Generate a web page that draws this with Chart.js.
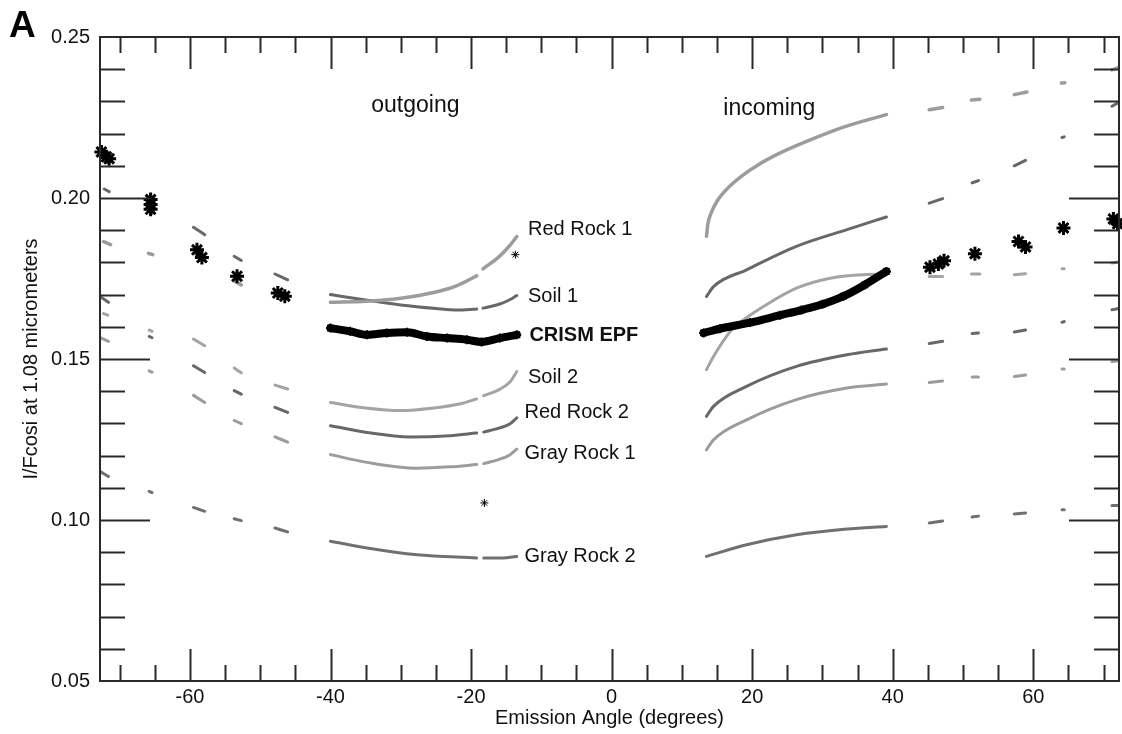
<!DOCTYPE html>
<html>
<head>
<meta charset="utf-8">
<title>EPF</title>
<script src="https://cdn.jsdelivr.net/npm/chart.js@4/dist/chart.umd.min.js"></script>
<style>
html, body { margin: 0; padding: 0; background: #fff; overflow: hidden; }
#myChart { display: block; }
</style>
</head>
<body>
<canvas id="myChart" width="1122" height="734"></canvas>
<script>
// axis ticks
const xTickLabels = [-60, -40, -20, 0, 20, 40, 60];
const xMinorTicks = [-70, -65, -60, -55, -50, -45, -40, -35, -30, -25, -20, -15, -10, -5, 0, 5, 10, 15, 20, 25, 30, 35, 40, 45, 50, 55, 60, 65, 70];
const yTickLabels = [0.05, 0.10, 0.15, 0.20, 0.25];
const yMinorTicks = [0.06, 0.07, 0.08, 0.09, 0.10, 0.11, 0.12, 0.13, 0.14, 0.15, 0.16, 0.17, 0.18, 0.19, 0.20, 0.21, 0.22, 0.23, 0.24];
const xMin = -72.8, xMax = 72.2;

// model curves, null = break between the separate emission-angle sweeps
const redRock1Angle = [-72.3, -71.3, null, -65.9, -65.3, null, -59.3, -57.9, null, -53.7, -52.7, null, -47.9, -46.1, null,
  -40, -35, -30, -25, -22, -19.2, null, -18.3, -16, -14.5, -13.5, null,
  13.5, 13.7, 14.2, 15.0, 16.5, 18.5, 21.0, 24.0, 28.0, 33.0, 39.1, null,
  45.2, 47.1, null, 51.2, 52.4, null, 57.3, 59.1, null, 64.0, 64.5, null, 71.2, 72.4];
const redRock1Value = [0.1865, 0.1855, null, 0.1828, 0.1824, null, 0.1830, 0.1808, null, 0.1742, 0.1730, null, 0.1712, 0.1700, null,
  0.1676, 0.1679, 0.1689, 0.1708, 0.1728, 0.1758, null, 0.1780, 0.1818, 0.1852, 0.1880, null,
  0.1881, 0.1920, 0.1955, 0.1990, 0.2030, 0.2068, 0.2105, 0.2140, 0.2178, 0.2220, 0.2259, null,
  0.2274, 0.2281, null, 0.2304, 0.2307, null, 0.2321, 0.2329, null, 0.2357, 0.2358, null, 0.2398, 0.2407];

const soil1Angle = [-72.2, -71.5, null, -65.8, -65.4, null, -59.5, -57.9, null, -53.7, -52.7, null, -47.9, -46.1, null,
  -40, -35, -30, -25, -22, -19.2, null, -18.3, -16, -14.5, -13.5, null,
  13.5, 14.5, 19.2, 26.3, 33.5, 39.1, null,
  45.2, 47.1, null, 51.3, 52.2, null, 57.3, 58.9, null, 64.1, 64.4, null, 71.2, 72.4];
const soil1Value = [0.2028, 0.2020, null, 0.1958, 0.1952, null, 0.1909, 0.1886, null, 0.1819, 0.1806, null, 0.1764, 0.1746, null,
  0.1700, 0.1683, 0.1668, 0.1657, 0.1652, 0.1655, null, 0.1658, 0.1670, 0.1684, 0.1697, null,
  0.1694, 0.1725, 0.1777, 0.1850, 0.1902, 0.1941, null,
  0.1984, 0.1998, null, 0.2047, 0.2054, null, 0.2100, 0.2117, null, 0.2188, 0.2190, null, 0.2285, 0.2300];

const soil2Angle = [-72.3, -71.7, null, -65.8, -65.4, null, -59.5, -57.9, null, -53.7, -52.7, null, -47.9, -46.1, null,
  -40, -35, -30, -25.3, -21.5, -19.2, null, -18.2, -16, -14.4, -13.5, null,
  13.5, 14.5, 17.3, 19.2, 21.6, 26.3, 31.1, 35.8, 39.1, null,
  45.2, 47.1, null, 51.2, 52.4, null, 57.3, 58.9, null, 64.1, 64.4, null, 71.2, 72.4];
const soil2Value = [0.1641, 0.1636, null, 0.1590, 0.1586, null, 0.1562, 0.1541, null, 0.1472, 0.1457, null, 0.1419, 0.1407, null,
  0.1365, 0.1348, 0.1340, 0.1348, 0.1361, 0.1376, null, 0.1386, 0.1405, 0.1430, 0.1461, null,
  0.1467, 0.1508, 0.1596, 0.1628, 0.1663, 0.1720, 0.1751, 0.1762, 0.1763, null,
  0.1756, 0.1756, null, 0.1764, 0.1764, null, 0.1762, 0.1765, null, 0.1780, 0.1780, null, 0.1798, 0.1803];

const redRock2Angle = [-72.8, -71.6, null, -65.8, -65.4, null, -59.5, -57.9, null, -53.7, -52.7, null, -47.9, -46.1, null,
  -40, -34.8, -28.7, -23, -19.2, null, -18.2, -15.9, -14.5, -13.5, null,
  13.5, 14.5, 19.2, 26.3, 33.5, 39.1, null,
  45.2, 47.1, null, 51.3, 52.2, null, 57.3, 58.9, null, 64.1, 64.4, null, 71.2, 72.4];
const redRock2Value = [0.1694, 0.1676, null, 0.1570, 0.1566, null, 0.1479, 0.1458, null, 0.1402, 0.1391, null, 0.1350, 0.1334, null,
  0.1293, 0.1272, 0.1258, 0.1262, 0.1270, null, 0.1273, 0.1286, 0.1298, 0.1317, null,
  0.1322, 0.1353, 0.1415, 0.1477, 0.1513, 0.1531, null,
  0.1548, 0.1555, null, 0.1579, 0.1581, null, 0.1584, 0.1590, null, 0.1614, 0.1616, null, 0.1653, 0.1658];

const grayRock1Angle = [-72.6, -71.6, null, -65.8, -65.4, null, -59.5, -57.9, null, -53.7, -52.7, null, -47.9, -46.1, null,
  -40, -34.8, -27.7, -23, -19.2, null, -18.2, -15.9, -14.5, -13.5, null,
  13.5, 14.5, 19.2, 26.3, 33.5, 39.1, null,
  45.2, 47.1, null, 51.3, 52.2, null, 57.3, 58.9, null, 64.1, 64.4, null, 71.2, 72.4];
const grayRock1Value = [0.1565, 0.1555, null, 0.1463, 0.1459, null, 0.1387, 0.1365, null, 0.1309, 0.1299, null, 0.1258, 0.1242, null,
  0.1203, 0.1179, 0.1161, 0.1165, 0.1172, null, 0.1175, 0.1189, 0.1202, 0.1220, null,
  0.1218, 0.1249, 0.1311, 0.1374, 0.1410, 0.1422, null,
  0.1427, 0.1432, null, 0.1444, 0.1444, null, 0.1446, 0.1450, null, 0.1469, 0.1469, null, 0.1492, 0.1495];

const grayRock2Angle = [-72.8, -71.6, null, -65.8, -65.4, null, -59.5, -57.9, null, -53.7, -52.7, null, -47.9, -46.1, null,
  -40, -34.8, -27.7, -19.2, null, -18.2, -15.5, -13.5, null,
  13.5, 19.2, 26.3, 33.5, 39.1, null,
  45.2, 47.1, null, 51.3, 52.2, null, 57.3, 58.9, null, 64.1, 64.4, null, 71.2, 72.4];
const grayRock2Value = [0.1151, 0.1135, null, 0.1089, 0.1085, null, 0.1039, 0.1027, null, 0.1004, 0.0998, null, 0.0975, 0.0963, null,
  0.0934, 0.0913, 0.0892, 0.0882, null, 0.0882, 0.0882, 0.0887, null,
  0.0887, 0.0923, 0.0954, 0.0972, 0.0980, null,
  0.0991, 0.0997, null, 0.1009, 0.1012, null, 0.1019, 0.1022, null, 0.1032, 0.1032, null, 0.1045, 0.1045];

// CRISM EPF: the two dense sweeps
const crismAngle = [-40.0, -37.2, -34.8, -32.0, -29.1, -26.3, -23.4, -20.6, -18.5, -15.9, -13.5, null,
  13.1, 15.4, 19.7, 24.0, 27.0, 30.0, 33.0, 36.0, 39.1];
const crismValue = [0.1596, 0.1586, 0.1575, 0.1581, 0.1583, 0.1570, 0.1565, 0.1560, 0.1553, 0.1565, 0.1575, null,
  0.1581, 0.1594, 0.1613, 0.1636, 0.1652, 0.1670, 0.1695, 0.1730, 0.1772];
// CRISM EPF: single observations at the other angles
const crismSpotAngle = [-72.6, -71.9, -71.5, -65.6, -65.6, -65.6, -59.0, -58.3, -53.3, -47.5, -46.5,
  45.3, 46.5, 47.3, 51.7, 57.9, 58.9, 64.3, 71.4, 72.0];
const crismSpotValue = [0.2143, 0.2128, 0.2122, 0.1995, 0.1980, 0.1965, 0.1839, 0.1815, 0.1757, 0.1705, 0.1695,
  0.1785, 0.1795, 0.1805, 0.1827, 0.1865, 0.1848, 0.1907, 0.1935, 0.1920];
const strayAngle = [-13.7, -18.1];
const strayValue = [0.1824, 0.1053];

// labels beside the curves
const curveNames = ['Red Rock 1', 'Soil 1', 'CRISM EPF', 'Soil 2', 'Red Rock 2', 'Gray Rock 1', 'Gray Rock 2'];
const curveNameAngle = [-11.9, -11.9, -11.7, -11.9, -12.4, -12.4, -12.4];
const curveNameValue = [0.1906, 0.1698, 0.1577, 0.1448, 0.1339, 0.1212, 0.0892];
const headNames = ['outgoing', 'incoming'];
const headAngle = [-34.2, 15.9];
const headValue = [0.2268, 0.2259];

const light = '#9c9c9c';
const dark = '#686868';
const fontFam = '"Liberation Sans", Arial, Helvetica, sans-serif';

function toPoints(angles, values) {
    return angles.map((a, i) => ({x: a, y: values[i]}));
}

function modelLine(label, angles, values, color, width) {
    return {
        label: label,
        data: toPoints(angles, values),
        borderColor: color,
        borderWidth: width,
        borderCapStyle: 'round',
        pointRadius: 0,
        cubicInterpolationMode: 'monotone',
        spanGaps: false,
        order: 2
    };
}

const datasets = [
    modelLine('Red Rock 1', redRock1Angle, redRock1Value, light, 3.5),
    modelLine('Soil 1', soil1Angle, soil1Value, dark, 3),
    modelLine('Soil 2', soil2Angle, soil2Value, '#a4a4a4', 3),
    modelLine('Red Rock 2', redRock2Angle, redRock2Value, dark, 3),
    modelLine('Gray Rock 1', grayRock1Angle, grayRock1Value, light, 3),
    modelLine('Gray Rock 2', grayRock2Angle, grayRock2Value, '#707070', 3),
    {
        label: 'CRISM EPF',
        data: toPoints(crismAngle, crismValue),
        borderColor: '#000',
        borderWidth: 8,
        borderCapStyle: 'round',
        cubicInterpolationMode: 'monotone',
        pointStyle: 'star',
        pointRadius: 4.5,
        pointBorderWidth: 2,
        pointBorderColor: '#000',
        spanGaps: false,
        order: 1
    },
    {
        label: 'CRISM EPF points',
        data: toPoints(crismSpotAngle, crismSpotValue),
        showLine: false,
        pointStyle: 'star',
        pointRadius: 7,
        pointBorderWidth: 3,
        pointBorderColor: '#000',
        clip: false,
        order: 0
    },
    {
        label: 'stray',
        data: toPoints(strayAngle, strayValue),
        showLine: false,
        pointStyle: 'star',
        pointRadius: 4,
        pointBorderWidth: 1,
        pointBorderColor: '#000',
        order: 0
    }
];

// frame with inward ticks on all four sides
const frameTicks = {
    id: 'frameTicks',
    afterDatasetsDraw(chart) {
        const {ctx, chartArea: a, scales: {x, y}} = chart;
        ctx.save();
        ctx.strokeStyle = '#2a2a2a';
        ctx.lineWidth = 2;
        ctx.strokeRect(a.left, a.top, a.right - a.left, a.bottom - a.top);
        ctx.beginPath();
        xMinorTicks.forEach(v => {
            let px = Math.round(x.getPixelForValue(v)) + 0.5;
            let len = xTickLabels.includes(v) ? 32 : 16;
            ctx.moveTo(px, a.bottom); ctx.lineTo(px, a.bottom - len);
            ctx.moveTo(px, a.top); ctx.lineTo(px, a.top + len);
        });
        yMinorTicks.forEach(v => {
            let py = Math.round(y.getPixelForValue(v)) + 0.5;
            let len = yTickLabels.includes(v) ? 50 : 25;
            ctx.moveTo(a.left, py); ctx.lineTo(a.left + len, py);
            ctx.moveTo(a.right, py); ctx.lineTo(a.right - len, py);
        });
        ctx.stroke();
        ctx.restore();
    }
};

// text inside the plot and the panel letter
const textLabels = {
    id: 'textLabels',
    afterDraw(chart) {
        const {ctx, scales: {x, y}} = chart;
        ctx.save();
        ctx.fillStyle = '#111';
        ctx.textAlign = 'left';
        ctx.textBaseline = 'alphabetic';
        for (let i = 0; i < curveNames.length; i++) {
            ctx.font = (curveNames[i] === 'CRISM EPF' ? 'bold ' : '') + '20px ' + fontFam;
            ctx.fillText(curveNames[i], x.getPixelForValue(curveNameAngle[i]), y.getPixelForValue(curveNameValue[i]) + 7.2);
        }
        ctx.font = '23px ' + fontFam;
        for (let i = 0; i < headNames.length; i++) {
            ctx.fillText(headNames[i], x.getPixelForValue(headAngle[i]), y.getPixelForValue(headValue[i]));
        }
        ctx.font = 'bold 37px ' + fontFam;
        ctx.fillStyle = '#000';
        ctx.fillText('A', 9, 37);
        ctx.restore();
    }
};

new Chart(document.getElementById('myChart'), {
    type: 'line',
    data: {datasets: datasets},
    options: {
        responsive: false,
        animation: false,
        layout: {autoPadding: false, padding: {top: 37, right: 3, left: 0, bottom: 0}},
        plugins: {legend: {display: false}, tooltip: {enabled: false}},
        scales: {
            x: {
                type: 'linear',
                min: xMin,
                max: xMax,
                afterBuildTicks: s => { s.ticks = xTickLabels.map(v => ({value: v})); },
                afterFit: s => { s.height = 53; s.paddingLeft = 0; s.paddingRight = 0; },
                grid: {display: false, drawTicks: false},
                border: {display: false},
                ticks: {color: '#111', padding: 4, font: {family: fontFam, size: 20}, callback: v => String(v)},
                title: {display: true, text: 'Emission Angle (degrees)', color: '#111',
                    font: {family: fontFam, size: 20}, padding: {top: 0, bottom: 4}}
            },
            y: {
                min: 0.05,
                max: 0.25,
                afterBuildTicks: s => { s.ticks = yTickLabels.map(v => ({value: v})); },
                afterFit: s => { s.width = 100; s.paddingTop = 0; s.paddingBottom = 0; },
                grid: {display: false, drawTicks: false},
                border: {display: false},
                ticks: {color: '#111', padding: 10, font: {family: fontFam, size: 20}, callback: v => v.toFixed(2)},
                title: {display: true, text: 'I/Fcosi at 1.08 micrometers', color: '#111',
                    font: {family: fontFam, size: 20}, padding: {top: 19, bottom: 0}}
            }
        }
    },
    plugins: [frameTicks, textLabels]
});
</script>
</body>
</html>
